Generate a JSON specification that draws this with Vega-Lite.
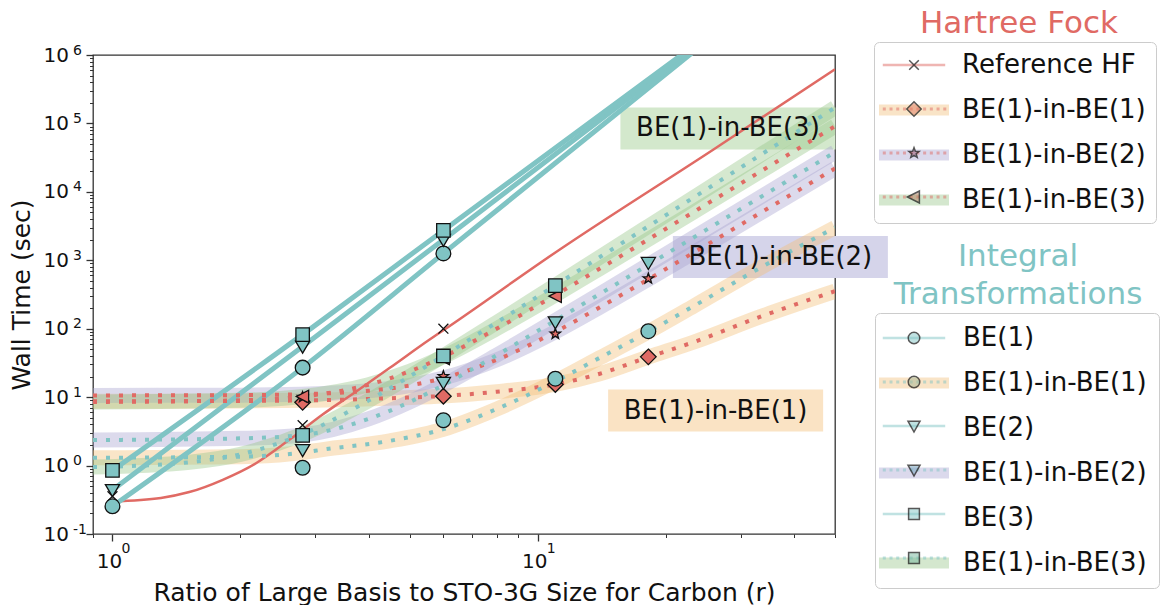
{
  "$schema": "https://vega.github.io/schema/vega-lite/v6.json",
  "width": 742,
  "height": 479,
  "autosize": {"type": "none"},
  "padding": {"left": 93, "top": 55, "right": 326, "bottom": 71},
  "background": "white",
  "config": {
    "font": "DejaVu Sans",
    "view": {"stroke": "#333333", "strokeWidth": 1.3},
    "axis": {"grid": false, "domain": false, "tickColor": "#333333", "labelColor": "#111111", "titleColor": "#111111", "labelFont": "DejaVu Sans", "titleFont": "DejaVu Sans", "labelFontSize": 20, "titleFontSize": 25, "titleFontWeight": "normal", "labelOverlap": false, "labelFlush": false, "labelBound": false}
  },
  "datasets": {
    "curves": [
      {"s": "Ref", "r": 1, "t": 0.30}, {"s": "Ref", "r": 1.3, "t": 0.337}, {"s": "Ref", "r": 1.516, "t": 0.41}, {"s": "Ref", "r": 1.817, "t": 0.62}, {"s": "Ref", "r": 2.18, "t": 1.09}, {"s": "Ref", "r": 2.61, "t": 2.4}, {"s": "Ref", "r": 3.12, "t": 5.57}, {"s": "Ref", "r": 3.75, "t": 12.2}, {"s": "Ref", "r": 4.49, "t": 26.8}, {"s": "Ref", "r": 5.57, "t": 69.5}, {"s": "Ref", "r": 6, "t": 95}, {"s": "Ref", "r": 11.27, "t": 1440}, {"s": "Ref", "r": 25.9, "t": 41700}, {"s": "Ref", "r": 50, "t": 620000},
      {"s": "HF1", "r": 0.9, "t": 8.7}, {"s": "HF1", "r": 2, "t": 8.8}, {"s": "HF1", "r": 3, "t": 9.0}, {"s": "HF1", "r": 4.8, "t": 9.8}, {"s": "HF1", "r": 6, "t": 10.4}, {"s": "HF1", "r": 8, "t": 12.0}, {"s": "HF1", "r": 11, "t": 15.4}, {"s": "HF1", "r": 14, "t": 22}, {"s": "HF1", "r": 18.2, "t": 38.5}, {"s": "HF1", "r": 23.3, "t": 64}, {"s": "HF1", "r": 33.4, "t": 150}, {"s": "HF1", "r": 50, "t": 353},
      {"s": "HF2", "r": 0.9, "t": 10.6}, {"s": "HF2", "r": 2, "t": 10.7}, {"s": "HF2", "r": 3, "t": 11.2}, {"s": "HF2", "r": 4, "t": 12.4}, {"s": "HF2", "r": 5, "t": 14.8}, {"s": "HF2", "r": 6, "t": 19}, {"s": "HF2", "r": 8, "t": 35}, {"s": "HF2", "r": 11, "t": 90}, {"s": "HF2", "r": 14, "t": 206}, {"s": "HF2", "r": 18.2, "t": 528}, {"s": "HF2", "r": 25, "t": 1690}, {"s": "HF2", "r": 35, "t": 5870}, {"s": "HF2", "r": 50, "t": 22000},
      {"s": "HF3", "r": 0.9, "t": 8.5}, {"s": "HF3", "r": 2, "t": 9.0}, {"s": "HF3", "r": 2.8, "t": 10.2}, {"s": "HF3", "r": 4, "t": 15.2}, {"s": "HF3", "r": 5, "t": 23.9}, {"s": "HF3", "r": 6, "t": 39}, {"s": "HF3", "r": 8, "t": 100}, {"s": "HF3", "r": 11, "t": 310}, {"s": "HF3", "r": 14, "t": 757}, {"s": "HF3", "r": 18.2, "t": 2020}, {"s": "HF3", "r": 25, "t": 6670}, {"s": "HF3", "r": 35, "t": 23700}, {"s": "HF3", "r": 50, "t": 91000},
      {"s": "IT1", "r": 0.9, "t": 1.3}, {"s": "IT1", "r": 2, "t": 1.35}, {"s": "IT1", "r": 2.8, "t": 1.55}, {"s": "IT1", "r": 3.12, "t": 1.71}, {"s": "IT1", "r": 4.49, "t": 2.3}, {"s": "IT1", "r": 6, "t": 3.4}, {"s": "IT1", "r": 8, "t": 6.7}, {"s": "IT1", "r": 11, "t": 17}, {"s": "IT1", "r": 14, "t": 37.7}, {"s": "IT1", "r": 18.2, "t": 90}, {"s": "IT1", "r": 23.3, "t": 215}, {"s": "IT1", "r": 33.4, "t": 780}, {"s": "IT1", "r": 50, "t": 3000},
      {"s": "IT2", "r": 0.9, "t": 2.36}, {"s": "IT2", "r": 2, "t": 2.5}, {"s": "IT2", "r": 2.8, "t": 2.8}, {"s": "IT2", "r": 4, "t": 4.8}, {"s": "IT2", "r": 5, "t": 8.5}, {"s": "IT2", "r": 6, "t": 15}, {"s": "IT2", "r": 8, "t": 41}, {"s": "IT2", "r": 11, "t": 132}, {"s": "IT2", "r": 14, "t": 323}, {"s": "IT2", "r": 18.2, "t": 860}, {"s": "IT2", "r": 25, "t": 2830}, {"s": "IT2", "r": 35, "t": 9980}, {"s": "IT2", "r": 50, "t": 38000},
      {"s": "IT3", "r": 0.9, "t": 0.95}, {"s": "IT3", "r": 1.5, "t": 1.11}, {"s": "IT3", "r": 2, "t": 1.46}, {"s": "IT3", "r": 2.8, "t": 2.88}, {"s": "IT3", "r": 4, "t": 8.9}, {"s": "IT3", "r": 5, "t": 20.1}, {"s": "IT3", "r": 6, "t": 40.2}, {"s": "IT3", "r": 8, "t": 123}, {"s": "IT3", "r": 11, "t": 431}, {"s": "IT3", "r": 14, "t": 1115}, {"s": "IT3", "r": 18.2, "t": 3140}, {"s": "IT3", "r": 25, "t": 11000}, {"s": "IT3", "r": 35, "t": 41600}, {"s": "IT3", "r": 50, "t": 170000},
      {"s": "B1", "r": 1, "t": 0.254}, {"s": "B1", "r": 2.8, "t": 27}, {"s": "B1", "r": 6, "t": 1260}, {"s": "B1", "r": 25, "t": 1610000},
      {"s": "B2", "r": 1, "t": 0.44}, {"s": "B2", "r": 2.8, "t": 55}, {"s": "B2", "r": 6, "t": 2000}, {"s": "B2", "r": 25, "t": 1750000},
      {"s": "B3", "r": 1, "t": 0.85}, {"s": "B3", "r": 2.8, "t": 82}, {"s": "B3", "r": 6, "t": 2730}, {"s": "B3", "r": 25, "t": 1890000}
    ],
    "pts": [
      {"s": "Ref", "r": 1, "t": 0.356}, {"s": "Ref", "r": 2.8, "t": 3.9}, {"s": "Ref", "r": 6, "t": 100},
      {"s": "HF1", "r": 2.8, "t": 8.4}, {"s": "HF1", "r": 6, "t": 10.3}, {"s": "HF1", "r": 11, "t": 15.3}, {"s": "HF1", "r": 18.2, "t": 38.8},
      {"s": "HF2", "r": 2.8, "t": 10.0}, {"s": "HF2", "r": 6, "t": 20.2}, {"s": "HF2", "r": 11, "t": 84}, {"s": "HF2", "r": 18.2, "t": 540},
      {"s": "HF3", "r": 2.8, "t": 10.2}, {"s": "HF3", "r": 6, "t": 37}, {"s": "HF3", "r": 11, "t": 299},
      {"s": "B1", "r": 1, "t": 0.254}, {"s": "B1", "r": 2.8, "t": 27}, {"s": "B1", "r": 6, "t": 1260},
      {"s": "B2", "r": 1, "t": 0.44}, {"s": "B2", "r": 2.8, "t": 55}, {"s": "B2", "r": 6, "t": 2000},
      {"s": "B3", "r": 1, "t": 0.85}, {"s": "B3", "r": 2.8, "t": 82}, {"s": "B3", "r": 6, "t": 2730},
      {"s": "IT1", "r": 2.8, "t": 0.93}, {"s": "IT1", "r": 6, "t": 4.6}, {"s": "IT1", "r": 11, "t": 18.6}, {"s": "IT1", "r": 18.2, "t": 92},
      {"s": "IT2", "r": 2.8, "t": 1.69}, {"s": "IT2", "r": 6, "t": 16.3}, {"s": "IT2", "r": 11, "t": 125}, {"s": "IT2", "r": 18.2, "t": 920},
      {"s": "IT3", "r": 2.8, "t": 2.76}, {"s": "IT3", "r": 6, "t": 40}, {"s": "IT3", "r": 11, "t": 427}
    ],
    "notes": [
      {"label": "BE(1)-in-BE(3)", "k": "3", "r": 28.0, "t": 84500},
      {"label": "BE(1)-in-BE(2)", "k": "2", "r": 37.2, "t": 1117},
      {"label": "BE(1)-in-BE(1)", "k": "1", "r": 26.2, "t": 6.37}
    ]
  },
  "layer": [
    {
      "data": {"name": "notes"},
      "mark": {"type": "point", "filled": true, "shape": "M-1,-0.1953H1V0.1953H-1Z", "size": 46225, "opacity": 1, "strokeWidth": 0},
      "encoding": {
        "x": {"field": "r", "type": "quantitative", "scale": {"type": "log", "domain": [0.9, 50], "nice": false},
          "axis": {"orient": "bottom", "title": "Ratio of Large Basis to STO-3G Size for Carbon (r)", "values": [0.9,1,2,3,4,5,6,7,8,9,10,20,30,40,50],
            "labelExpr": "datum.value === 1 || datum.value === 10 ? '10' : ''",
            "tickSize": {"condition": {"test": "datum.value === 1 || datum.value === 10", "value": 7}, "value": 3.5},
            "tickWidth": {"condition": {"test": "datum.value === 1 || datum.value === 10", "value": 1.3}, "value": 1},
            "labelPadding": 10, "labelOffset": -3.5, "titlePadding": 9}},
        "y": {"field": "t", "type": "quantitative", "scale": {"type": "log", "domain": [0.1, 1000000], "nice": false},
          "axis": {"orient": "left", "title": "Wall Time (sec)", "values": [0.1,0.2,0.3,0.4,0.5,0.6,0.7,0.8,0.9,1,2,3,4,5,6,7,8,9,10,20,30,40,50,60,70,80,90,100,200,300,400,500,600,700,800,900,1000,2000,3000,4000,5000,6000,7000,8000,9000,10000,20000,30000,40000,50000,60000,70000,80000,90000,100000,200000,300000,400000,500000,600000,700000,800000,900000,1000000],
            "labelExpr": "datum.value === 0.1 || datum.value === 1 || datum.value === 10 || datum.value === 100 || datum.value === 1000 || datum.value === 10000 || datum.value === 100000 || datum.value === 1000000 ? '10' : ''",
            "tickSize": {"condition": {"test": "datum.value === 0.1 || datum.value === 1 || datum.value === 10 || datum.value === 100 || datum.value === 1000 || datum.value === 10000 || datum.value === 100000 || datum.value === 1000000", "value": 7}, "value": 3.5},
            "tickWidth": {"condition": {"test": "datum.value === 0.1 || datum.value === 1 || datum.value === 10 || datum.value === 100 || datum.value === 1000 || datum.value === 10000 || datum.value === 100000 || datum.value === 1000000", "value": 1.3}, "value": 1},
            "labelPadding": 17.5, "titlePadding": 9}},
        "fill": {"field": "k", "type": "nominal", "scale": {"domain": ["1", "2", "3"], "range": ["#FAE3C4", "#D5D4EA", "#D3E8CC"]}, "legend": null}
      }
    },
    {
      "data": {"values": []},
      "mark": {"type": "point", "opacity": 0},
      "encoding": {
        "x": {"field": "r", "type": "quantitative",
          "axis": {"orient": "bottom", "title": null, "values": [1, 10], "labelExpr": "datum.value === 1 ? '0' : '1'", "labelFontSize": 14, "tickSize": 3.5, "tickColor": "transparent", "labelPadding": 4, "labelOffset": 13}},
        "y": {"field": "t", "type": "quantitative",
          "axis": {"orient": "left", "title": null, "values": [0.1, 1, 10, 100, 1000, 10000, 100000, 1000000], "labelExpr": "datum.value === 0.1 ? '-1' : datum.value === 1 ? '0' : datum.value === 10 ? '1' : datum.value === 100 ? '2' : datum.value === 1000 ? '3' : datum.value === 10000 ? '4' : datum.value === 100000 ? '5' : '6'", "labelFontSize": 14, "labelAlign": "left", "tickSize": 3.5, "tickColor": "transparent", "labelPadding": 17, "labelOffset": -5}}
      }
    },
    {
      "data": {"name": "curves"},
      "transform": [{"filter": {"field": "s", "oneOf": ["HF1", "HF2", "HF3", "IT1", "IT2", "IT3"]}}],
      "mark": {"type": "line", "strokeWidth": 15, "opacity": 0.4, "interpolate": "monotone", "clip": true, "strokeCap": "butt"},
      "encoding": {
        "x": {"field": "r", "type": "quantitative", "axis": null},
        "y": {"field": "t", "type": "quantitative", "axis": null},
        "stroke": {"field": "s", "type": "nominal", "scale": {"domain": ["HF1", "HF2", "HF3", "IT1", "IT2", "IT3"], "range": ["#F2BE76", "#A8A2D0", "#96C587", "#F2BE76", "#A8A2D0", "#96C587"]}, "legend": null}
      }
    },
    {
      "data": {"name": "curves"},
      "transform": [{"filter": "datum.s === 'Ref'"}],
      "mark": {"type": "line", "stroke": "#E06A64", "strokeWidth": 2.5, "interpolate": "monotone", "clip": true},
      "encoding": {
        "x": {"field": "r", "type": "quantitative", "axis": null},
        "y": {"field": "t", "type": "quantitative", "axis": null}
      }
    },
    {
      "data": {"name": "curves"},
      "transform": [{"filter": {"field": "s", "oneOf": ["B1", "B2", "B3"]}}],
      "mark": {"type": "line", "stroke": "#80C4C4", "strokeWidth": 5, "interpolate": "monotone", "clip": true},
      "encoding": {
        "x": {"field": "r", "type": "quantitative", "axis": null},
        "y": {"field": "t", "type": "quantitative", "axis": null},
        "detail": {"field": "s", "type": "nominal"}
      }
    },
    {
      "data": {"name": "curves"},
      "transform": [{"filter": {"field": "s", "oneOf": ["HF1", "HF2", "HF3", "IT1", "IT2", "IT3"]}}],
      "mark": {"type": "line", "strokeWidth": 4, "strokeDash": [4, 9], "strokeCap": "butt", "interpolate": "monotone", "clip": true},
      "encoding": {
        "x": {"field": "r", "type": "quantitative", "axis": null},
        "y": {"field": "t", "type": "quantitative", "axis": null},
        "stroke": {"field": "s", "type": "nominal", "scale": {"domain": ["HF1", "HF2", "HF3", "IT1", "IT2", "IT3"], "range": ["#E06A64", "#E06A64", "#E06A64", "#80C4C4", "#80C4C4", "#80C4C4"]}, "legend": null}
      }
    },
    {
      "data": {"name": "pts"},
      "mark": {"type": "point", "filled": true, "size": 200, "stroke": "#111111", "strokeWidth": 1.3, "opacity": 1},
      "encoding": {
        "x": {"field": "r", "type": "quantitative", "axis": null},
        "y": {"field": "t", "type": "quantitative", "axis": null},
        "shape": {"field": "s", "type": "nominal", "legend": null, "scale": {
          "domain": ["Ref", "HF1", "HF2", "HF3", "B1", "B2", "B3", "IT1", "IT2", "IT3"],
          "range": [
            "M-0.7,-0.7L0.7,0.7M-0.7,0.7L0.7,-0.7",
            "M0,-1.1L1.1,0L0,1.1L-1.1,0Z",
            "M0,-0.78L0.188,-0.259L0.742,-0.241L0.304,0.099L0.458,0.631L0,0.32L-0.458,0.631L-0.304,0.099L-0.742,-0.241L-0.188,-0.259Z",
            "M-0.9,0L0.85,-0.9L0.85,0.9Z",
            "M1.04,0A1.04,1.04,0,1,1,-1.04,0A1.04,1.04,0,1,1,1.04,0Z",
            "M-1,-0.75L1,-0.75L0,0.95Z",
            "M-0.95,-0.95H0.95V0.95H-0.95Z",
            "M1.04,0A1.04,1.04,0,1,1,-1.04,0A1.04,1.04,0,1,1,1.04,0Z",
            "M-1,-0.75L1,-0.75L0,0.95Z",
            "M-0.95,-0.95H0.95V0.95H-0.95Z"
          ]}},
        "fill": {"field": "s", "type": "nominal", "legend": null, "scale": {
          "domain": ["Ref", "HF1", "HF2", "HF3", "B1", "B2", "B3", "IT1", "IT2", "IT3"],
          "range": ["rgba(0,0,0,0)", "#E06A64", "#E06A64", "#E06A64", "#80C4C4", "#80C4C4", "#80C4C4", "#80C4C4", "#80C4C4", "#80C4C4"]}}
      }
    },
    {
      "data": {"name": "notes"},
      "mark": {"type": "text", "font": "DejaVu Sans", "fontSize": 26, "color": "#111111", "align": "center", "baseline": "middle"},
      "encoding": {
        "x": {"field": "r", "type": "quantitative", "axis": null},
        "y": {"field": "t", "type": "quantitative", "axis": null},
        "text": {"field": "label", "type": "nominal"}
      }
    },
    {
      "data": {"values": []},
      "mark": {"type": "point", "filled": true},
      "encoding": {
        "fill": {"field": "g", "type": "nominal", "scale": {"domain": ["hf"], "range": ["rgba(0,0,0,0)"]},
          "legend": {"orient": "none", "legendX": 827, "legendY": -46, "direction": "vertical", "title": "Hartree Fock", "titleColor": "#E06A64", "titleFont": "DejaVu Sans", "titleFontSize": 31, "titleFontWeight": "normal", "titleAnchor": "middle", "titleAlign": "center", "titlePadding": 0, "titleLimit": 500, "symbolSize": 1, "symbolStrokeWidth": 0, "symbolStrokeColor": "transparent", "labelExpr": "''", "padding": 0}}
      }
    },
    {
      "data": {"values": []},
      "mark": {"type": "point", "filled": true},
      "encoding": {
        "fill": {"field": "g", "type": "nominal", "scale": {"domain": ["it"], "range": ["rgba(0,0,0,0)"]},
          "legend": {"orient": "none", "legendX": 801, "legendY": 187, "direction": "vertical", "title": ["Integral", "Transformations"], "titleColor": "#80C4C4", "titleFont": "DejaVu Sans", "titleFontSize": 31, "titleFontWeight": "normal", "titleAnchor": "middle", "titleAlign": "center", "titleLineHeight": 38, "titlePadding": 0, "titleLimit": 500, "symbolSize": 1, "symbolStrokeWidth": 0, "symbolStrokeColor": "transparent", "labelExpr": "''", "padding": 0}}
      }
    },
    {
      "data": {"values": []},
      "mark": {"type": "point", "filled": true, "opacity": 0.4},
      "encoding": {
        "fill": {"field": "s", "type": "nominal",
          "scale": {"domain": ["Reference HF", "BE(1)-in-BE(1)", "BE(1)-in-BE(2)", "BE(1)-in-BE(3)"], "range": ["rgba(0,0,0,0)", "#F2BE76", "#A8A2D0", "#96C587"]},
          "legend": {"orient": "none", "legendX": 781, "legendY": -13, "direction": "vertical", "title": null, "symbolType": "M-2.917,-0.45H2.917V0.45H-2.917Z", "symbolSize": 576, "symbolStrokeWidth": 1.5, "symbolStrokeColor": "transparent", "symbolOffset": 17, "labelOffset": 35, "labelFont": "DejaVu Sans", "labelFontSize": 26, "labelColor": "#111111", "labelLimit": 500, "rowPadding": 19, "padding": 10, "strokeColor": "#cccccc", "cornerRadius": 5}}
      }
    },
    {
      "data": {"values": []},
      "mark": {"type": "point", "filled": true, "opacity": 0.4},
      "encoding": {
        "fill": {"field": "s", "type": "nominal",
          "scale": {"domain": ["BE(1)", "BE(1)-in-BE(1)", "BE(2)", "BE(1)-in-BE(2)", "BE(3)", "BE(1)-in-BE(3)"], "range": ["rgba(0,0,0,0)", "#F2BE76", "rgba(0,0,0,0)", "#A8A2D0", "rgba(0,0,0,0)", "#96C587"]},
          "legend": {"orient": "none", "legendX": 782, "legendY": 258, "direction": "vertical", "title": null, "symbolType": "M-2.917,-0.45H2.917V0.45H-2.917Z", "symbolSize": 576, "symbolStrokeWidth": 1.5, "symbolStrokeColor": "transparent", "symbolOffset": 14, "labelOffset": 36, "labelFont": "DejaVu Sans", "labelFontSize": 26, "labelColor": "#111111", "labelLimit": 500, "rowPadding": 19, "padding": 12, "strokeColor": "#cccccc", "cornerRadius": 5}}
      }
    },
    {
      "data": {"values": []},
      "mark": {"type": "point", "filled": true},
      "encoding": {
        "fill": {"field": "s", "type": "nominal",
          "scale": {"domain": ["Reference HF", "BE(1)-in-BE(1)", "BE(1)-in-BE(2)", "BE(1)-in-BE(3)"], "range": ["#E06A64", "#E06A64", "#E06A64", "#E06A64"]},
          "legend": {"orient": "none", "legendX": 781, "legendY": -13, "direction": "vertical", "title": null, "symbolSize": 576, "symbolStrokeWidth": 1.5, "symbolStrokeColor": "transparent", "symbolOffset": 17, "labelOffset": 35, "labelFont": "DejaVu Sans", "labelFontSize": 26, "labelExpr": "''", "rowPadding": 12, "padding": 10}},
        "shape": {"field": "s", "type": "nominal",
          "scale": {"domain": ["Reference HF", "BE(1)-in-BE(1)", "BE(1)-in-BE(2)", "BE(1)-in-BE(3)"], "range": [
            "M-2.95,-1.0833M2.95,1.0833M-2.6,-0.1H2.6V0.1H-2.6Z",
            "M-2.95,-1.0833M2.95,1.0833M-2.6,-0.125H-2.35V0.125H-2.6Z M-2.04,-0.125H-1.79V0.125H-2.04Z M-1.48,-0.125H-1.23V0.125H-1.48Z M-0.92,-0.125H-0.67V0.125H-0.92Z M-0.36,-0.125H-0.11V0.125H-0.36Z M0.2,-0.125H0.45V0.125H0.2Z M0.76,-0.125H1.01V0.125H0.76Z M1.32,-0.125H1.57V0.125H1.32Z M1.88,-0.125H2.13V0.125H1.88Z M2.44,-0.125H2.69V0.125H2.44Z",
            "M-2.95,-1.0833M2.95,1.0833M-2.6,-0.125H-2.35V0.125H-2.6Z M-2.04,-0.125H-1.79V0.125H-2.04Z M-1.48,-0.125H-1.23V0.125H-1.48Z M-0.92,-0.125H-0.67V0.125H-0.92Z M-0.36,-0.125H-0.11V0.125H-0.36Z M0.2,-0.125H0.45V0.125H0.2Z M0.76,-0.125H1.01V0.125H0.76Z M1.32,-0.125H1.57V0.125H1.32Z M1.88,-0.125H2.13V0.125H1.88Z M2.44,-0.125H2.69V0.125H2.44Z",
            "M-2.95,-1.0833M2.95,1.0833M-2.6,-0.125H-2.35V0.125H-2.6Z M-2.04,-0.125H-1.79V0.125H-2.04Z M-1.48,-0.125H-1.23V0.125H-1.48Z M-0.92,-0.125H-0.67V0.125H-0.92Z M-0.36,-0.125H-0.11V0.125H-0.36Z M0.2,-0.125H0.45V0.125H0.2Z M0.76,-0.125H1.01V0.125H0.76Z M1.32,-0.125H1.57V0.125H1.32Z M1.88,-0.125H2.13V0.125H1.88Z M2.44,-0.125H2.69V0.125H2.44Z"]},
          "legend": {"orient": "none", "legendX": 781, "legendY": -13, "direction": "vertical", "title": null, "symbolSize": 576, "symbolStrokeWidth": 1.5, "symbolStrokeColor": "transparent", "symbolOffset": 17, "labelOffset": 35, "labelFont": "DejaVu Sans", "labelFontSize": 26, "labelExpr": "''", "rowPadding": 12, "padding": 10}}
      }
    },
    {
      "data": {"values": []},
      "mark": {"type": "point", "filled": true},
      "encoding": {
        "fill": {"field": "s", "type": "nominal",
          "scale": {"domain": ["BE(1)", "BE(1)-in-BE(1)", "BE(2)", "BE(1)-in-BE(2)", "BE(3)", "BE(1)-in-BE(3)"], "range": ["#80C4C4", "#80C4C4", "#80C4C4", "#80C4C4", "#80C4C4", "#80C4C4"]},
          "legend": {"orient": "none", "legendX": 782, "legendY": 258, "direction": "vertical", "title": null, "symbolSize": 576, "symbolStrokeWidth": 1.5, "symbolStrokeColor": "transparent", "symbolOffset": 14, "labelOffset": 36, "labelFont": "DejaVu Sans", "labelFontSize": 26, "labelExpr": "''", "rowPadding": 12, "padding": 12}},
        "shape": {"field": "s", "type": "nominal",
          "scale": {"domain": ["BE(1)", "BE(1)-in-BE(1)", "BE(2)", "BE(1)-in-BE(2)", "BE(3)", "BE(1)-in-BE(3)"], "range": [
            "M-2.95,-1.0833M2.95,1.0833M-2.6,-0.1H2.6V0.1H-2.6Z",
            "M-2.95,-1.0833M2.95,1.0833M-2.6,-0.125H-2.35V0.125H-2.6Z M-2.04,-0.125H-1.79V0.125H-2.04Z M-1.48,-0.125H-1.23V0.125H-1.48Z M-0.92,-0.125H-0.67V0.125H-0.92Z M-0.36,-0.125H-0.11V0.125H-0.36Z M0.2,-0.125H0.45V0.125H0.2Z M0.76,-0.125H1.01V0.125H0.76Z M1.32,-0.125H1.57V0.125H1.32Z M1.88,-0.125H2.13V0.125H1.88Z M2.44,-0.125H2.69V0.125H2.44Z",
            "M-2.95,-1.0833M2.95,1.0833M-2.6,-0.1H2.6V0.1H-2.6Z",
            "M-2.95,-1.0833M2.95,1.0833M-2.6,-0.125H-2.35V0.125H-2.6Z M-2.04,-0.125H-1.79V0.125H-2.04Z M-1.48,-0.125H-1.23V0.125H-1.48Z M-0.92,-0.125H-0.67V0.125H-0.92Z M-0.36,-0.125H-0.11V0.125H-0.36Z M0.2,-0.125H0.45V0.125H0.2Z M0.76,-0.125H1.01V0.125H0.76Z M1.32,-0.125H1.57V0.125H1.32Z M1.88,-0.125H2.13V0.125H1.88Z M2.44,-0.125H2.69V0.125H2.44Z",
            "M-2.95,-1.0833M2.95,1.0833M-2.6,-0.1H2.6V0.1H-2.6Z",
            "M-2.95,-1.0833M2.95,1.0833M-2.6,-0.125H-2.35V0.125H-2.6Z M-2.04,-0.125H-1.79V0.125H-2.04Z M-1.48,-0.125H-1.23V0.125H-1.48Z M-0.92,-0.125H-0.67V0.125H-0.92Z M-0.36,-0.125H-0.11V0.125H-0.36Z M0.2,-0.125H0.45V0.125H0.2Z M0.76,-0.125H1.01V0.125H0.76Z M1.32,-0.125H1.57V0.125H1.32Z M1.88,-0.125H2.13V0.125H1.88Z M2.44,-0.125H2.69V0.125H2.44Z"]},
          "legend": {"orient": "none", "legendX": 782, "legendY": 258, "direction": "vertical", "title": null, "symbolSize": 576, "symbolStrokeWidth": 1.5, "symbolStrokeColor": "transparent", "symbolOffset": 14, "labelOffset": 36, "labelFont": "DejaVu Sans", "labelFontSize": 26, "labelExpr": "''", "rowPadding": 12, "padding": 12}}
      }
    },
    {
      "data": {"values": []},
      "mark": {"type": "point", "filled": true, "stroke": "#111111", "strokeWidth": 1.5},
      "encoding": {
        "fill": {"field": "s", "type": "nominal",
          "scale": {"domain": ["Reference HF", "BE(1)-in-BE(1)", "BE(1)-in-BE(2)", "BE(1)-in-BE(3)"], "range": ["rgba(0,0,0,0)", "#E07B5F", "#9B4F6A", "#B47A5C"]},
          "legend": {"orient": "none", "legendX": 781, "legendY": -13, "direction": "vertical", "title": null, "symbolSize": 576, "symbolStrokeWidth": 1.5, "symbolOffset": 17, "labelOffset": 35, "labelFont": "DejaVu Sans", "labelFontSize": 26, "labelExpr": "''", "rowPadding": 12, "padding": 10}},
        "shape": {"field": "s", "type": "nominal",
          "scale": {"domain": ["Reference HF", "BE(1)-in-BE(1)", "BE(1)-in-BE(2)", "BE(1)-in-BE(3)"], "range": [
            "M-2.95,-1.0833M2.95,1.0833M-0.4,-0.4L0.4,0.4M-0.4,0.4L0.4,-0.4",
            "M-2.95,-1.0833M2.95,1.0833M0,-0.6L0.6,0L0,0.6L-0.6,0Z",
            "M-2.95,-1.0833M2.95,1.0833M0,-0.45L0.112,-0.154L0.428,-0.139L0.181,0.059L0.265,0.364L0,0.19L-0.265,0.364L-0.181,0.059L-0.428,-0.139L-0.112,-0.154Z",
            "M-2.95,-1.0833M2.95,1.0833M-0.55,0L0.45,-0.5L0.45,0.5Z"]},
          "legend": {"orient": "none", "legendX": 781, "legendY": -13, "direction": "vertical", "title": null, "symbolSize": 576, "symbolStrokeWidth": 1.5, "symbolOffset": 17, "labelOffset": 35, "labelFont": "DejaVu Sans", "labelFontSize": 26, "labelExpr": "''", "rowPadding": 12, "padding": 10}}
      }
    },
    {
      "data": {"values": []},
      "mark": {"type": "point", "filled": true, "stroke": "#111111", "strokeWidth": 1.5},
      "encoding": {
        "fill": {"field": "s", "type": "nominal",
          "scale": {"domain": ["BE(1)", "BE(1)-in-BE(1)", "BE(2)", "BE(1)-in-BE(2)", "BE(3)", "BE(1)-in-BE(3)"], "range": ["#80C4C4", "#A5B592", "#80C4C4", "#6E9FBA", "#80C4C4", "#72B59B"]},
          "legend": {"orient": "none", "legendX": 782, "legendY": 258, "direction": "vertical", "title": null, "symbolSize": 576, "symbolStrokeWidth": 1.5, "symbolOffset": 14, "labelOffset": 36, "labelFont": "DejaVu Sans", "labelFontSize": 26, "labelExpr": "''", "rowPadding": 12, "padding": 12}},
        "shape": {"field": "s", "type": "nominal",
          "scale": {"domain": ["BE(1)", "BE(1)-in-BE(1)", "BE(2)", "BE(1)-in-BE(2)", "BE(3)", "BE(1)-in-BE(3)"], "range": [
            "M-2.95,-1.0833M2.95,1.0833M0.48,0A0.48,0.48,0,1,1,-0.48,0A0.48,0.48,0,1,1,0.48,0Z",
            "M-2.95,-1.0833M2.95,1.0833M0.48,0A0.48,0.48,0,1,1,-0.48,0A0.48,0.48,0,1,1,0.48,0Z",
            "M-2.95,-1.0833M2.95,1.0833M-0.5,-0.4L0.5,-0.4L0,0.5Z",
            "M-2.95,-1.0833M2.95,1.0833M-0.5,-0.4L0.5,-0.4L0,0.5Z",
            "M-2.95,-1.0833M2.95,1.0833M-0.45,-0.45H0.45V0.45H-0.45Z",
            "M-2.95,-1.0833M2.95,1.0833M-0.45,-0.45H0.45V0.45H-0.45Z"]},
          "legend": {"orient": "none", "legendX": 782, "legendY": 258, "direction": "vertical", "title": null, "symbolSize": 576, "symbolStrokeWidth": 1.5, "symbolOffset": 14, "labelOffset": 36, "labelFont": "DejaVu Sans", "labelFontSize": 26, "labelExpr": "''", "rowPadding": 12, "padding": 12}}
      }
    }
  ],
  "resolve": {
    "scale": {"fill": "independent", "shape": "independent", "stroke": "independent", "color": "independent"},
    "axis": {"x": "independent", "y": "independent"},
    "legend": {"fill": "independent", "shape": "independent", "stroke": "independent", "color": "independent"}
  }
}
